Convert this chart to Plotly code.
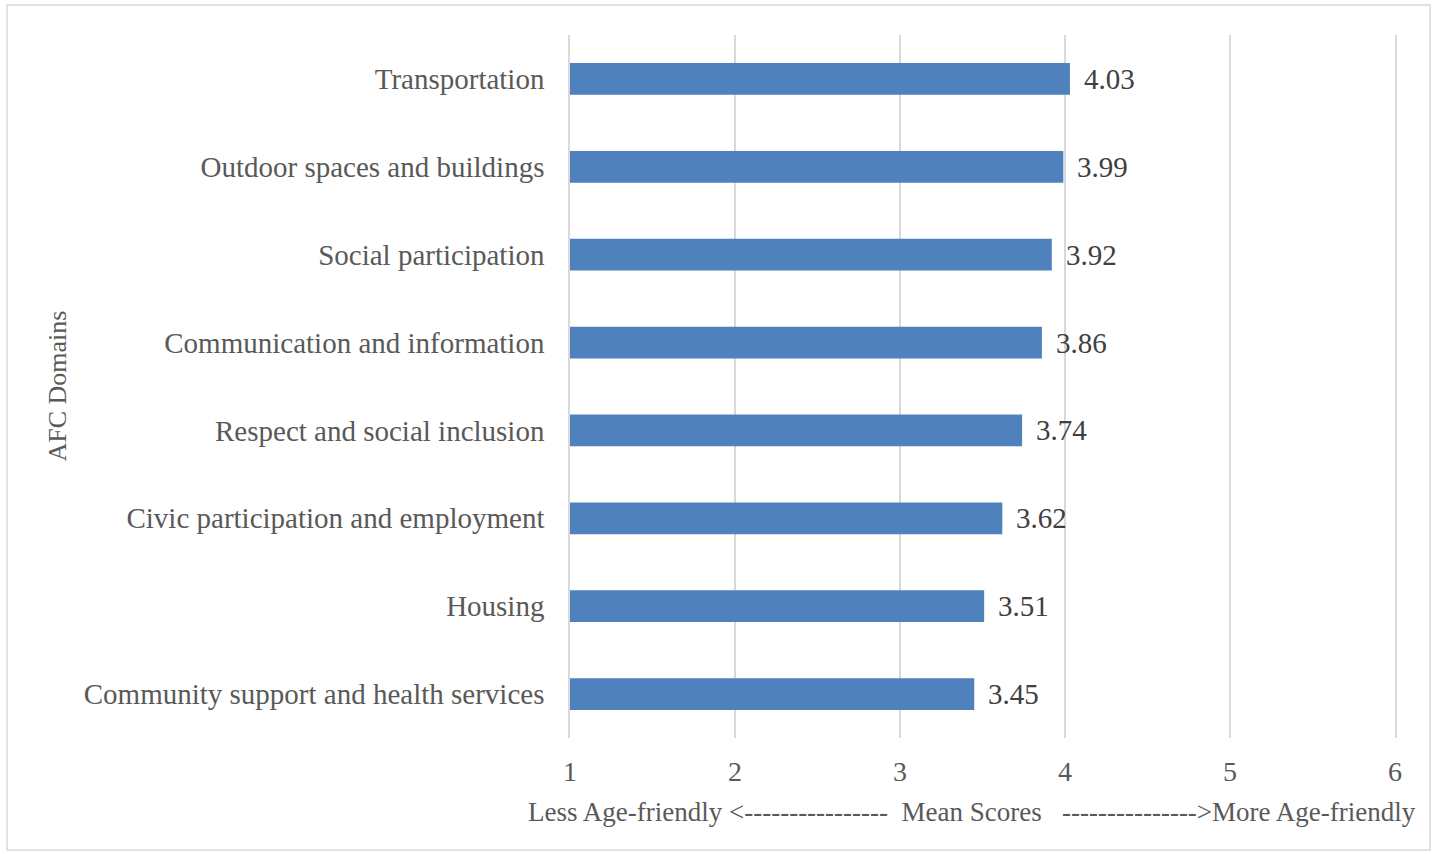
import plotly.graph_objects as go

# AFC domain mean scores (bottom-to-top order for a horizontal bar chart)
domains = [
    "Community support and health services",
    "Housing",
    "Civic participation and employment",
    "Respect and social inclusion",
    "Communication and information",
    "Social participation",
    "Outdoor spaces and buildings",
    "Transportation",
]
mean_scores = [3.45, 3.51, 3.62, 3.74, 3.86, 3.92, 3.99, 4.03]
x_ticks = [1, 2, 3, 4, 5, 6]

x_title = "Less Age-friendly <----------------  Mean Scores   --------------->More Age-friendly"
y_title = "AFC Domains"

FONT = "Liberation Serif, Times New Roman, serif"
TICK_COLOR = "#595959"
GRID = "#d9d9d9"

fig = go.Figure()
# bars start at the axis origin of 1
fig.add_trace(go.Bar(
    x=[v - 1 for v in mean_scores],
    y=domains,
    base=1,
    orientation="h",
    marker=dict(color="#4f81bd", line=dict(width=0)),
    customdata=mean_scores,
    hovertemplate="%{y}: %{customdata:.2f}<extra></extra>",
))

for d, v in zip(domains, mean_scores):
    fig.add_annotation(
        x=v, y=d, text=f"{v:.2f}", showarrow=False,
        xanchor="left", xshift=12,
        font=dict(family=FONT, size=29, color="#404040"),
    )

# axis titles
fig.add_annotation(
    xref="paper", yref="paper", x=0.487, y=-0.1053,
    xanchor="center", yanchor="middle", showarrow=False,
    text=x_title, font=dict(family=FONT, size=27, color=TICK_COLOR),
)
fig.add_annotation(
    xref="paper", yref="paper", x=-0.6218, y=0.5,
    xanchor="center", yanchor="middle", showarrow=False, textangle=-90,
    text=y_title, font=dict(family=FONT, size=26, color=TICK_COLOR),
)

# light frame around the whole chart
fig.add_shape(
    type="rect", xref="paper", yref="paper",
    x0=-0.6824, x1=1.0424, y0=-0.1593, y1=1.0427,
    line=dict(color="#d9d9d9", width=1.5), fillcolor="rgba(0,0,0,0)", layer="below",
)

fig.update_layout(
    width=1437, height=854,
    margin=dict(l=570, r=42, t=35, b=116),
    paper_bgcolor="white", plot_bgcolor="white",
    bargap=0.64,
    showlegend=False,
    font=dict(family=FONT, color=TICK_COLOR),
    xaxis=dict(
        range=[1, 6],
        tickvals=x_ticks,
        ticktext=[str(t) for t in x_ticks],
        showgrid=True, gridcolor=GRID, gridwidth=1.5,
        zeroline=False, showline=False, ticks="",
        ticklabelstandoff=14,
        tickfont=dict(family=FONT, size=28, color=TICK_COLOR),
    ),
    yaxis=dict(
        categoryorder="array", categoryarray=domains,
        showgrid=False, zeroline=False,
        showline=True, mirror=True, linecolor=GRID, linewidth=1.5,
        ticks="", ticklabelstandoff=18,
        tickfont=dict(family=FONT, size=29, color=TICK_COLOR),
    ),
)

fig.write_html("out.html")
